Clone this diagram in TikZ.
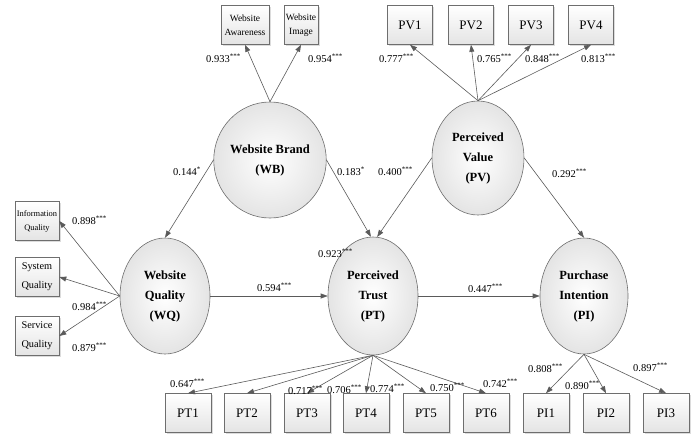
\documentclass[tikz,border=0pt]{standalone}
\usepackage{fontspec}
\setmainfont{Liberation Serif}
\usepackage{tikz}
\usetikzlibrary{shapes.geometric, arrows.meta, positioning, shadows}
\definecolor{LineGray}{HTML}{5A5A5A}
\definecolor{EdgeGray}{HTML}{6E6E6E}
\definecolor{FillGray}{HTML}{E4E4E4}
\newcommand{\sig}[2]{#1\textsuperscript{\scriptsize #2}}
\tikzset{
    latent/.style={ellipse, draw=EdgeGray, line width=0.6pt, inner color=white,
        outer color=FillGray, minimum width=90pt, minimum height=116pt,
        inner sep=0pt, align=center, font=\fontsize{12.5}{20}\selectfont\bfseries},
    item/.style={rectangle, draw=EdgeGray, line width=0.6pt, top color=white,
        bottom color=FillGray, drop shadow={shadow xshift=1.6pt, shadow yshift=-1.6pt, fill=gray!55},
        minimum width=46pt, minimum height=39pt, inner sep=1pt, align=center,
        font=\fontsize{13}{15}\selectfont},
    load/.style={draw=LineGray, line width=0.6pt, -{Triangle[length=7pt,width=5pt]}},
    coef/.style={anchor=west, inner sep=0pt, font=\fontsize{10.5}{12}\selectfont}
}

\begin{document}
\begin{tikzpicture}[x=1pt, y=-1pt]
    \useasboundingbox (0,0) rectangle (694,437);

    % Latent constructs
    \node[latent, minimum width=98pt] (wb) at (270,160) {Website Brand\\(WB)};
    \node[latent, minimum width=92pt, minimum height=114pt] (pv) at (478,158) {Perceived\\Value\\(PV)};
    \node[latent] (wq) at (165,296) {Website\\Quality\\(WQ)};
    \node[latent, minimum height=118pt] (pt) at (373,296) {Perceived\\Trust\\(PT)};
    \node[latent, minimum width=88pt] (pi) at (584,296) {Purchase\\Intention\\(PI)};

    % Indicators of WB and PV
    \node[item, minimum width=48pt, font=\fontsize{9.5}{14}\selectfont] (wa) at (245,25) {Website\\Awareness};
    \node[item, minimum width=34pt, font=\fontsize{9.5}{14}\selectfont] (wi) at (301,25) {Website\\Image};
    \node[item, minimum width=45pt] (pv1) at (410,25) {PV1};
    \node[item, minimum width=45pt] (pv2) at (471,25) {PV2};
    \node[item, minimum width=45pt] (pv3) at (531,25) {PV3};
    \node[item, minimum width=45pt] (pv4) at (591,25) {PV4};

    % Indicators of WQ
    \node[item, minimum width=44pt, font=\fontsize{8.4}{14}\selectfont] (iq) at (37,221) {Information\\Quality};
    \node[item, minimum width=44pt, font=\fontsize{10.3}{19}\selectfont] (sq) at (37,277) {System\\Quality};
    \node[item, minimum width=44pt, font=\fontsize{10.3}{19}\selectfont] (vq) at (37,336) {Service\\Quality};

    % Indicators of PT and PI
    \node[item] (pt1) at (188,413) {PT1};
    \node[item] (pt2) at (247,413) {PT2};
    \node[item] (pt3) at (307,413) {PT3};
    \node[item] (pt4) at (366,413) {PT4};
    \node[item] (pt5) at (426,413) {PT5};
    \node[item] (pt6) at (486,413) {PT6};
    \node[item] (pi1) at (546,413) {PI1};
    \node[item] (pi2) at (606,413) {PI2};
    \node[item] (pi3) at (666,413) {PI3};

    % Measurement paths
    \draw[load] (wb.north) -- (wa.south);
    \draw[load] (wb.north) -- (wi.south);
    \draw[load] (pv.north) -- (pv1.south);
    \draw[load] (pv.north) -- (pv2.south);
    \draw[load] (pv.north) -- (pv3.south);
    \draw[load] (pv.north) -- (pv4.south);
    \draw[load] (wq.west) -- (iq.east);
    \draw[load] (wq.west) -- (sq.east);
    \draw[load] (wq.west) -- (vq.east);
    \draw[load] (pt.south) -- (pt1.north);
    \draw[load] (pt.south) -- (pt2.north);
    \draw[load] (pt.south) -- (pt3.north);
    \draw[load] (pt.south) -- (pt4.north);
    \draw[load] (pt.south) -- (pt5.north);
    \draw[load] (pt.south) -- (pt6.north);
    \draw[load] (pi.south) -- (pi1.north);
    \draw[load] (pi.south) -- (pi2.north);
    \draw[load] (pi.south) -- (pi3.north);

    % Structural paths
    \draw[load] (wb.west) -- (wq.north);
    \draw[load] (wb.east) -- (pt.92);
    \draw[load] (pv.west) -- (pt.86);
    \draw[load] (pv.east) -- (pi.north);
    \draw[load] (wq.east) -- (pt.west);
    \draw[load] (pt.east) -- (pi.west);

    % Coefficients
    \node[coef] (c-wa) at (206,58) {\sig{0.933}{***}};
    \node[coef] (c-wi) at (308,58) {\sig{0.954}{***}};
    \node[coef] (c-pv1) at (379,58) {\sig{0.777}{***}};
    \node[coef] (c-pv2) at (477,58) {\sig{0.765}{***}};
    \node[coef] (c-pv3) at (525,58) {\sig{0.848}{***}};
    \node[coef] (c-pv4) at (581,58) {\sig{0.813}{***}};
    \node[coef] (c-iq) at (72,220) {\sig{0.898}{***}};
    \node[coef] (c-sq) at (72,306) {\sig{0.984}{***}};
    \node[coef] (c-vq) at (72,347) {\sig{0.879}{***}};
    \node[coef] (c-wbwq) at (173,171) {\sig{0.144}{*}};
    \node[coef] (c-wbpt) at (337,171) {\sig{0.183}{*}};
    \node[coef] (c-pvpt) at (378,171) {\sig{0.400}{***}};
    \node[coef] (c-pvpi) at (552,173) {\sig{0.292}{***}};
    \node[coef] (c-r2) at (318,253) {\sig{0.923}{***}};
    \node[coef] (c-wqpt) at (257,287) {\sig{0.594}{***}};
    \node[coef] (c-ptpi) at (468,288) {\sig{0.447}{***}};
    \node[coef] (c-pt1) at (170,383) {\sig{0.647}{***}};
    \node[coef] (c-pt3) at (288,390) {\sig{0.717}{***}};
    \node[coef] (c-pt4) at (327,389) {\sig{0.706}{***}};
    \node[coef] (c-pt5) at (370,388) {\sig{0.774}{***}};
    \node[coef] (c-pt6) at (430,387) {\sig{0.750}{***}};
    \node[coef] (c-pt7) at (483,383) {\sig{0.742}{***}};
    \node[coef] (c-pi1) at (528,368) {\sig{0.808}{***}};
    \node[coef] (c-pi2) at (565,385) {\sig{0.890}{***}};
    \node[coef] (c-pi3) at (633,367) {\sig{0.897}{***}};
\end{tikzpicture}
\end{document}
